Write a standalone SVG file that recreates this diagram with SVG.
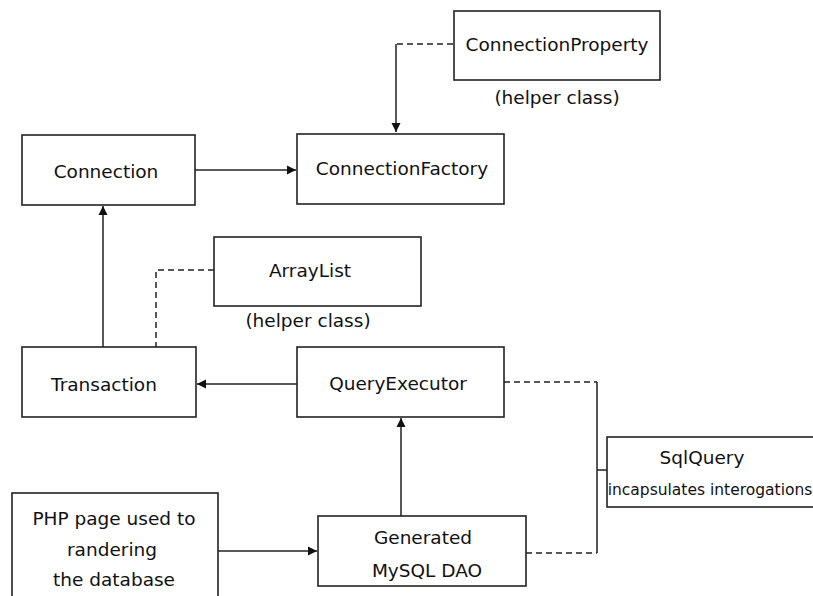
<svg xmlns="http://www.w3.org/2000/svg" width="813" height="596" viewBox="0 0 813 596">
<defs>
<style>
.box{fill:#fff;stroke:#222;stroke-width:1.6}
.t{font-family:"Comic Sans MS","DejaVu Sans",sans-serif;font-size:18.5px;fill:#111;text-anchor:middle;dominant-baseline:central}
.s{font-size:15.5px}
.ln{fill:none;stroke:#222;stroke-width:1.5}
.d{stroke-dasharray:6,4}
</style>
<marker id="ah" markerWidth="10" markerHeight="10" refX="9" refY="5" orient="auto" markerUnits="userSpaceOnUse">
<path d="M0,0.5 L9,5 L0,9.5 Z" fill="#111"/>
</marker>
</defs>
<rect width="813" height="596" fill="#fff"/>
<g id="connectors">
<path class="ln d" d="M453,44 H396"/>
<path class="ln" d="M396,44 V132" marker-end="url(#ah)"/>
<path class="ln" d="M195,170 H296" marker-end="url(#ah)"/>
<path class="ln" d="M103,347 V206" marker-end="url(#ah)"/>
<path class="ln d" d="M214,270 H156 V347"/>
<path class="ln" d="M297,384 H197" marker-end="url(#ah)"/>
<path class="ln" d="M401,517 V418" marker-end="url(#ah)"/>
<path class="ln" d="M218,551 H317" marker-end="url(#ah)"/>
<path class="ln d" d="M504,382 H597"/>
<path class="ln" d="M597,382 V553 M597,470 H607"/>
<path class="ln d" d="M526,553 H597"/>
</g>
<g id="connectionProperty">
<rect class="box" x="454" y="11" width="206" height="69"/>
<text class="t" x="557" y="44">ConnectionProperty</text>
<text class="t" x="557" y="97">(helper class)</text>
</g>
<g id="connection">
<rect class="box" x="22" y="135" width="173" height="70"/>
<text class="t" x="106" y="171">Connection</text>
</g>
<g id="connectionFactory">
<rect class="box" x="297" y="134" width="207" height="70"/>
<text class="t" x="402" y="168">ConnectionFactory</text>
</g>
<g id="arrayList">
<rect class="box" x="214" y="237" width="207" height="69"/>
<text class="t" x="310" y="270">ArrayList</text>
<text class="t" x="308" y="320">(helper class)</text>
</g>
<g id="transaction">
<rect class="box" x="22" y="347" width="174" height="70"/>
<text class="t" x="104" y="384">Transaction</text>
</g>
<g id="queryExecutor">
<rect class="box" x="297" y="347" width="207" height="70"/>
<text class="t" x="398" y="383">QueryExecutor</text>
</g>
<g id="sqlQuery">
<rect class="box" x="607" y="437" width="210" height="70"/>
<text class="t" x="702" y="457">SqlQuery</text>
<text class="t s" x="710" y="490">incapsulates interogations</text>
</g>
<g id="phpPage">
<rect class="box" x="12" y="493" width="206" height="110"/>
<text class="t" x="114" y="518">PHP page used to</text>
<text class="t" x="112" y="549">randering</text>
<text class="t" x="114" y="579">the database</text>
</g>
<g id="dao">
<rect class="box" x="318" y="516" width="208" height="70"/>
<text class="t" x="423" y="537">Generated</text>
<text class="t" x="427" y="570">MySQL DAO</text>
</g>
</svg>
